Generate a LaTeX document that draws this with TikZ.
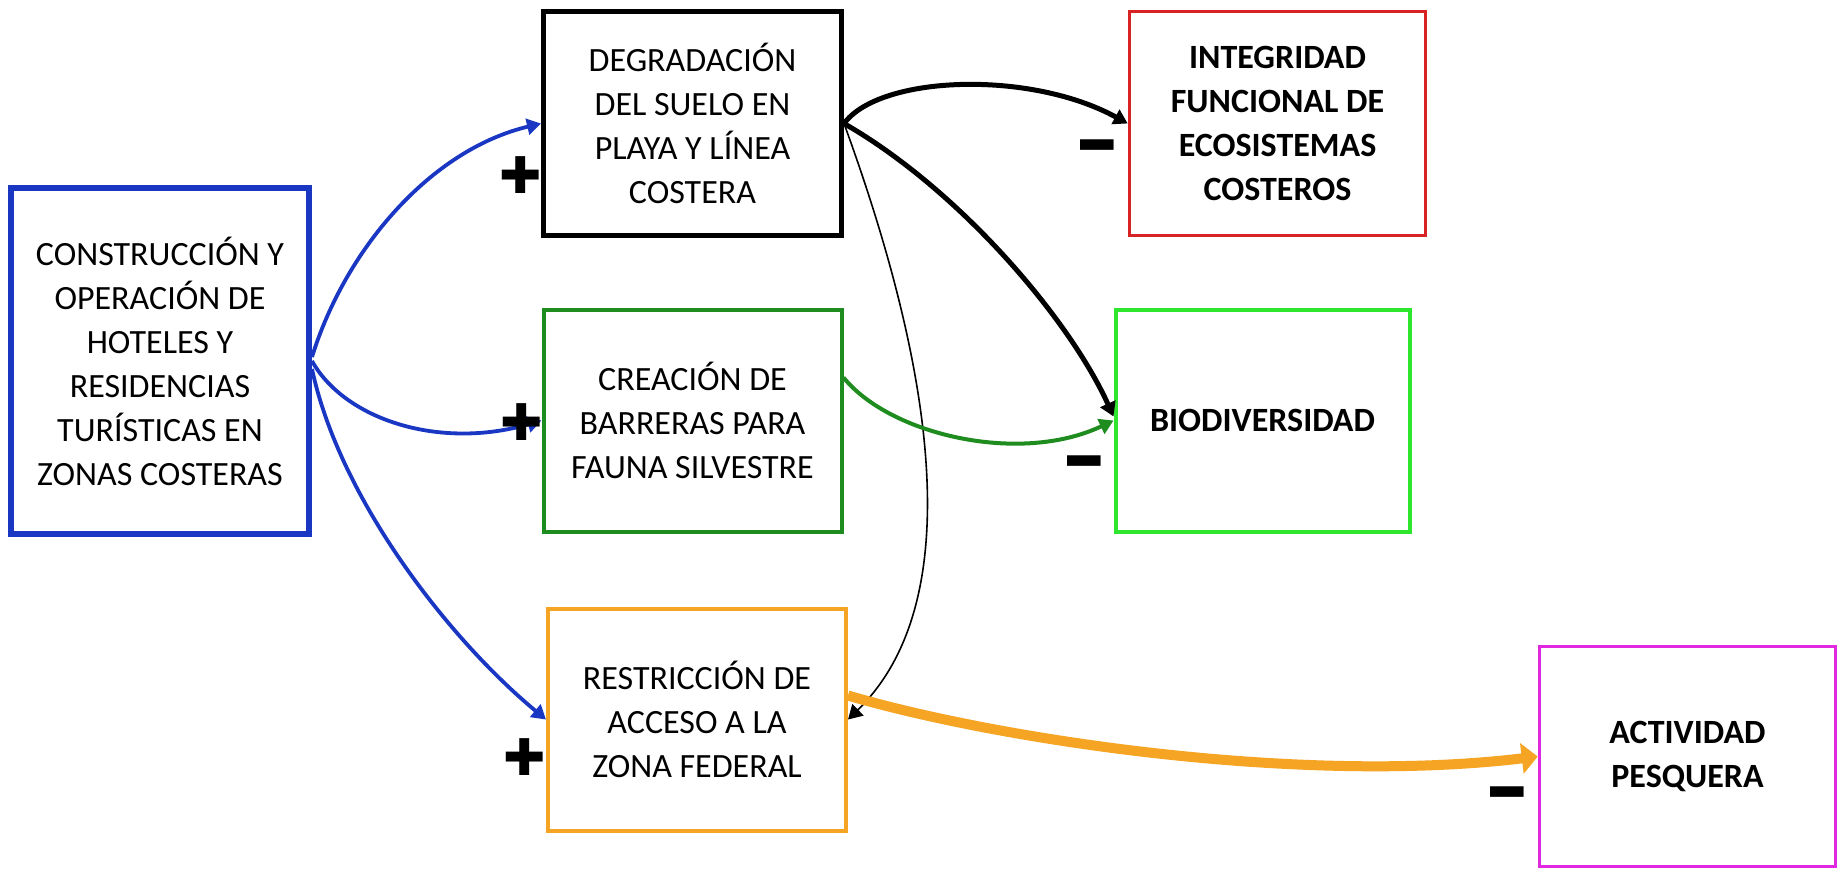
\documentclass[tikz,border=0pt]{standalone}
\usepackage{fontspec}
\setmainfont{Carlito}
\newfontfamily\symfont{DejaVu Sans}
\usetikzlibrary{arrows.meta}
\definecolor{cblue}{RGB}{25,55,195}
\definecolor{cdgreen}{RGB}{30,140,30}
\definecolor{clgreen}{RGB}{45,230,45}
\definecolor{corange}{RGB}{245,165,35}
\definecolor{cred}{RGB}{215,35,35}
\definecolor{cmag}{RGB}{225,40,225}
\begin{document}
\begin{tikzpicture}[x=0.5pt,y=-0.5pt,
  box/.style={draw, rectangle, inner sep=0pt, align=center, fill=white,
    minimum width=149pt, minimum height=112pt, font=\fontsize{17}{22}\selectfont},
  boldbox/.style={box, font=\fontsize{17}{22}\selectfont\bfseries},
  plussign/.style={inner sep=0pt, font=\symfont\fontsize{23}{23}\selectfont},
  minussign/.style={inner sep=0pt, font=\symfont\fontsize{22}{22}\selectfont},
  conn/.style={-{Triangle[length=7pt,width=8pt]}}
]
\useasboundingbox (0,0) rectangle (1845,872);
\fill[white] (0,0) rectangle (1845,872);

\node[box, draw=cblue, line width=3pt, minimum width=149pt, minimum height=173pt] (A) at (160,361)
  {CONSTRUCCIÓN Y\\OPERACIÓN DE\\HOTELES Y\\RESIDENCIAS\\TURÍSTICAS EN\\ZONAS COSTERAS};
\node[box, draw=black, line width=2.5pt] (B) at (692.5,123.5)
  {DEGRADACIÓN\\DEL SUELO EN\\PLAYA Y LÍNEA\\COSTERA};
\node[box, draw=cdgreen, line width=2pt, minimum height=111pt] (C) at (692.5,420.5)
  {CREACIÓN DE\\BARRERAS PARA\\FAUNA SILVESTRE};
\node[box, draw=corange, line width=2pt, minimum height=111pt] (D) at (697,719.5)
  {RESTRICCIÓN DE\\ACCESO A LA\\ZONA FEDERAL};
\node[boldbox, draw=cred, line width=1.8pt, minimum width=148pt] (E) at (1277.5,123.5)
  {INTEGRIDAD\\FUNCIONAL DE\\ECOSISTEMAS\\COSTEROS};
\node[boldbox, draw=clgreen, line width=2pt, minimum width=147pt, minimum height=111pt] (F) at (1262.5,420.5)
  {BIODIVERSIDAD};
\node[boldbox, draw=cmag, line width=1.8pt, minimum width=148pt, minimum height=110pt] (G) at (1687.5,756.5)
  {ACTIVIDAD\\PESQUERA};

% connectors
\draw[conn, cblue, line width=1.9pt] ([yshift=2pt]A.east) .. controls (345,250) and (430,150) .. (B.west);
\draw[conn, cblue, line width=1.9pt] (A.east) .. controls (345,420) and (440,450) .. (C.west);
\draw[conn, cblue, line width=1.9pt] ([yshift=-4pt]A.east) .. controls (340,500) and (450,640) .. (D.west);

\draw[conn, black, line width=2.5pt] (B.east) .. controls (880,75) and (1030,70) .. (E.west);
\draw[conn, black, line width=2.5pt] (B.east) .. controls (960,190) and (1070,320) .. ([yshift=2pt]F.west);
\draw[conn, black, line width=0.8pt] (B.east) .. controls (945,400) and (960,610) .. (D.east);

\draw[conn, cdgreen, line width=2pt] ([yshift=21.5pt]C.east) .. controls (890,435) and (1020,465) .. (F.west);

\draw[-{Triangle[length=8pt,width=15pt]}, corange, line width=5pt] ([yshift=12pt]D.east) .. controls (1000,740) and (1300,785) .. (G.west);

% signs
\node[plussign] (p1) at (521,175) {\scalebox{1.1}{✚}};
\node[plussign] (p2) at (522,422) {\scalebox{1.1}{✚}};
\node[plussign] (p3) at (525,757) {\scalebox{1.1}{✚}};
\node[minussign] (m1) at (1097,146) {\scalebox{1}[0.65]{▬}};
\node[minussign] (m2) at (1084,462) {\scalebox{1}[0.65]{▬}};
\node[minussign] (m3) at (1507,793) {\scalebox{1}[0.65]{▬}};
\end{tikzpicture}
\end{document}
